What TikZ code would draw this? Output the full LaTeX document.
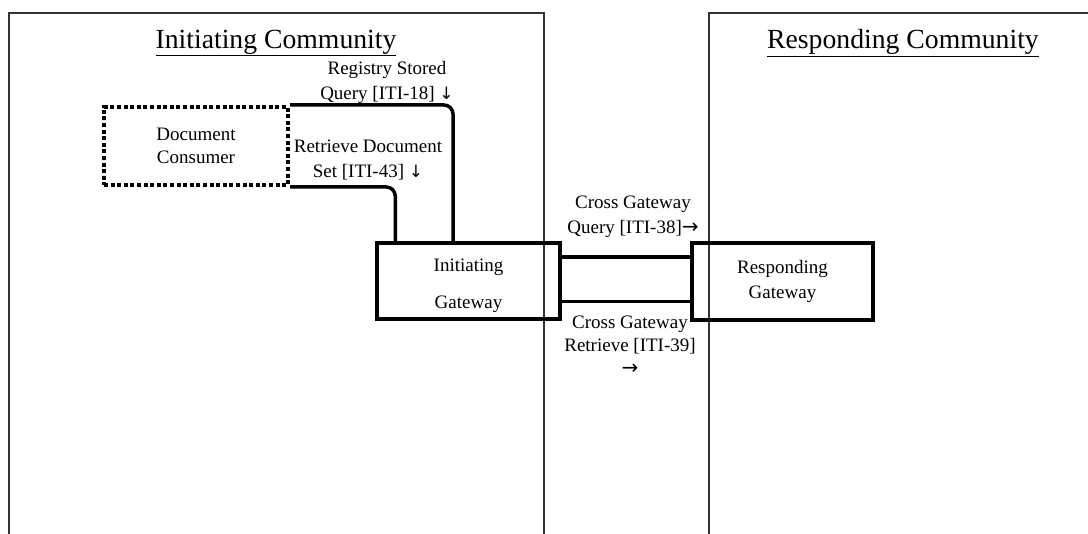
\documentclass[tikz,border=0pt]{standalone}
\usepackage{fontspec}
\setmainfont{Liberation Serif}
\newfontfamily\arrowfont{DejaVu Sans}
\newcommand{\dnarrow}{{\arrowfont\fontsize{17}{17}\selectfont ↓}}
\newcommand{\rtarrow}{{\arrowfont\fontsize{20}{20}\selectfont →}}
\begin{document}
\begin{tikzpicture}[x=1pt,y=-1pt,
  txt/.style={font=\fontsize{19}{25}\selectfont, align=center, inner sep=0pt},
  title/.style={font=\fontsize{27.7}{33}\selectfont, inner sep=0pt},
  community/.style={draw=black!80, line width=1.2pt},
  actor/.style={draw, line width=3.5pt, inner sep=0pt, align=center,
    font=\fontsize{19}{25}\selectfont},
  dotbox/.style={draw, line width=4pt, dash pattern=on 4pt off 2.6pt,
    inner sep=0pt, align=center, font=\fontsize{19}{23}\selectfont},
  link/.style={line width=3.5pt},
]
\useasboundingbox (0,0) rectangle (1088,534);

% community frames (open at the bottom)
\draw[community] (9,534) -- (9,13) -- (544,13) -- (544,534);
\draw[community] (709,534) -- (709,13) -- (1088,13);
\node[title] (ictitle) at (276,43) {\underline{Initiating Community}};
\node[title] (rctitle) at (903,43) {\underline{Responding Community}};

% actors
\node[dotbox, minimum width=184pt, minimum height=78pt] (dc) at (196,146)
  {Document\\Consumer};
\node[actor, minimum width=183pt, minimum height=76pt] (ig) at (468.5,281) {};
\node[txt, font=\fontsize{19}{37}\selectfont] (igtext) at (468.5,286)
  {Initiating\\Gateway};
\node[actor, minimum width=181pt, minimum height=77pt] (rg) at (782.5,281.5)
  {Responding\\Gateway};

% transactions inside the initiating community
\draw[link, rounded corners=9pt] (dc.north east) -| ([xshift=-15.5pt]ig.north);
\draw[link, rounded corners=9pt] (dc.south east) -| ([xshift=20pt]ig.north west);

% cross-community transactions
\draw[link] ([yshift=24pt]ig.east) -- ([yshift=24pt]ig.east -| rg.west);
\draw[link, line width=3pt] ([yshift=-21pt]ig.east) -- ([yshift=-21pt]ig.east -| rg.west);

% transaction labels
\node[txt] (rsq) at (387,82) {Registry Stored\\Query [ITI-18] \dnarrow};
\node[txt] (rds) at (368,160) {Retrieve Document\\Set [ITI-43] \dnarrow};
\node[txt] (xgq) at (633,217) {Cross Gateway\\Query [ITI-38]\rtarrow};
\node[txt, font=\fontsize{19}{23}\selectfont] (xgr) at (630,345)
  {Cross Gateway\\Retrieve [ITI-39]\\\rtarrow};
\end{tikzpicture}
\end{document}
